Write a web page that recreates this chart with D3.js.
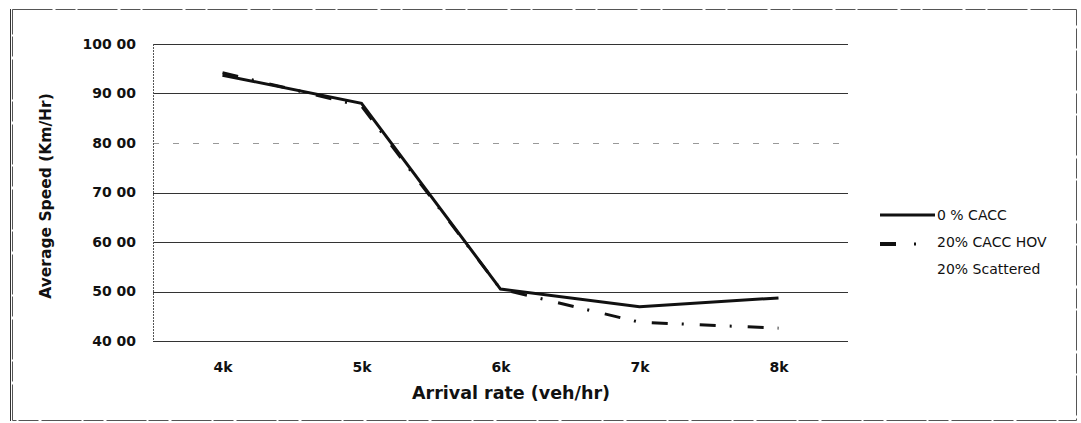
<!DOCTYPE html>
<html>
<head>
<meta charset="utf-8">
<script src="https://cdn.jsdelivr.net/npm/d3@7"></script>
<style>
    body { margin: 0; background: #fff; }
    svg text { font-family: "DejaVu Sans", Verdana, sans-serif; fill: #111; }
</style>
</head>
<body>
<div id="vis"></div>
<script>

// Chart data -------------------------------------------------------------

const CATEGORIES = ["4k", "5k", "6k", "7k", "8k"];
const CACC_0 = [93.7, 88.0, 50.5, 46.9, 48.7];
const CACC_20_HOV = [94.2, 87.5, 50.5, 43.8, 42.6];
const Y_TICKS = [40, 50, 60, 70, 80, 90, 100];
const Y_LABELS = ["40 00", "50 00", "60 00", "70 00", "80 00", "90 00", "100 00"];
const SERIES_NAMES = ["0 % CACC", "20% CACC HOV", "20% Scattered"];

// Build chart ------------------------------------------------------------

const width = 1081;
const height = 423;
const margin = {top: 44, right: 233, bottom: 82, left: 153};

const svg = d3.select("#vis")
    .append("svg")
    .attr("width", width)
    .attr("height", height);

// Outer frame
svg.append("rect")
    .attr("x", 12.5).attr("y", 9.5)
    .attr("width", 1064).attr("height", 411)
    .attr("fill", "none")
    .attr("stroke", "#555")
    .attr("stroke-width", 1)
    .attr("stroke-dasharray", "40,3,20,2");
svg.append("line")
    .attr("x1", 10.5).attr("x2", 10.5)
    .attr("y1", 9).attr("y2", 421)
    .attr("stroke", "#333");

const plotW = width - margin.left - margin.right;
const plotH = height - margin.top - margin.bottom;

const vis = svg.append("g")
    .attr("transform", `translate(${margin.left},${margin.top})`);

const xscale = d3.scalePoint()
    .domain(CATEGORIES)
    .range([0, plotW])
    .padding(0.5);

const yscale = d3.scaleLinear()
    .domain([40, 100])
    .range([plotH, 0]);

// Gridlines
vis.selectAll(".grid")
    .data(Y_TICKS)
    .enter()
    .append("line")
    .attr("class", "grid")
    .attr("x1", 0)
    .attr("x2", plotW)
    .attr("y1", d => Math.round(yscale(d)) + 0.5)
    .attr("y2", d => Math.round(yscale(d)) + 0.5)
    .attr("stroke", d => d === 80 ? "#999" : "#333")
    .attr("stroke-dasharray", d => d === 80 ? "6,14" : null)
    .attr("stroke-width", 1);

vis.append("line")
    .attr("x1", 0.5).attr("x2", 0.5)
    .attr("y1", 0).attr("y2", plotH)
    .attr("stroke", "#555")
    .attr("stroke-dasharray", "2,1");

// Y axis labels
const yaxis = d3.axisLeft(yscale)
    .tickValues(Y_TICKS)
    .tickFormat((d, i) => Y_LABELS[i])
    .tickSize(0)
    .tickPadding(17);

vis.append("g")
    .call(yaxis)
    .call(g => g.select(".domain").remove())
    .selectAll("text")
    .style("font-size", "14px")
    .style("font-weight", "bold");

// X axis labels
const xaxis = d3.axisBottom(xscale)
    .tickSize(0)
    .tickPadding(21);

vis.append("g")
    .attr("transform", `translate(0,${plotH})`)
    .call(xaxis)
    .call(g => g.select(".domain").remove())
    .selectAll("text")
    .style("font-size", "14px")
    .style("font-weight", "bold");

// Axis titles
svg.append("text")
    .attr("transform", "translate(51,196) rotate(-90)")
    .style("text-anchor", "middle")
    .style("font-size", "15.5px")
    .style("font-weight", "bold")
    .text("Average Speed (Km/Hr)");

svg.append("text")
    .attr("x", 511)
    .attr("y", 399)
    .style("text-anchor", "middle")
    .style("font-size", "17.5px")
    .style("font-weight", "bold")
    .text("Arrival rate (veh/hr)");

// Lines
const line = d3.line()
    .x((d, i) => xscale(CATEGORIES[i]))
    .y(d => yscale(d));

vis.append("path")
    .datum(CACC_20_HOV)
    .attr("d", line)
    .attr("fill", "none")
    .attr("stroke", "#111")
    .attr("stroke-width", 3)
    .attr("stroke-dasharray", "16,14,2,16");

vis.append("path")
    .datum(CACC_0)
    .attr("d", line)
    .attr("fill", "none")
    .attr("stroke", "#111")
    .attr("stroke-width", 3);

// Legend
const legend = svg.append("g")
    .attr("transform", "translate(880,0)");

legend.append("line")
    .attr("x1", 0).attr("x2", 55)
    .attr("y1", 215).attr("y2", 215)
    .attr("stroke", "#111")
    .attr("stroke-width", 3);

legend.append("line")
    .attr("x1", 0).attr("x2", 16)
    .attr("y1", 244).attr("y2", 244)
    .attr("stroke", "#111")
    .attr("stroke-width", 4);

legend.append("line")
    .attr("x1", 34).attr("x2", 36)
    .attr("y1", 244).attr("y2", 244)
    .attr("stroke", "#111")
    .attr("stroke-width", 3);

legend.selectAll(".legendtext")
    .data(SERIES_NAMES)
    .enter()
    .append("text")
    .attr("class", "legendtext")
    .attr("x", 57)
    .attr("y", (d, i) => 220 + i * 27)
    .style("font-size", "14px")
    .text(d => d);

</script>
</body>
</html>
